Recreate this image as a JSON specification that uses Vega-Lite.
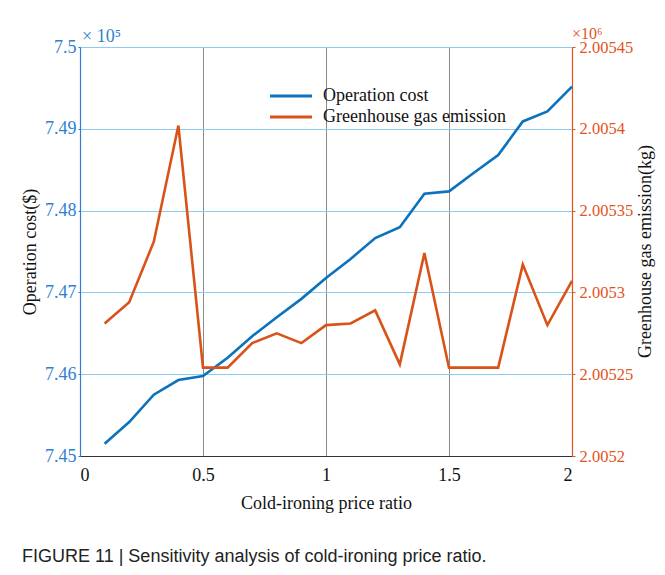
{
  "$schema": "https://vega.github.io/schema/vega-lite/v6.json",
  "width": 492,
  "height": 409,
  "autosize": {"type": "none"},
  "padding": {"left": 80, "top": 47, "right": 93, "bottom": 119},
  "background": "white",
  "config": {
    "view": {"stroke": null},
    "font": "Liberation Serif",
    "axis": {"labelFont": "Liberation Serif", "titleFont": "Liberation Serif", "labelFontSize": 18, "titleFontSize": 18, "titleFontWeight": "normal", "titleColor": "#111"},
    "legend": {"labelFont": "Liberation Serif"}
  },
  "title": {
    "text": "FIGURE 11 | Sensitivity analysis of cold-ironing price ratio.",
    "orient": "bottom",
    "anchor": "start",
    "frame": "group",
    "dx": -58,
    "offset": 36,
    "font": "Liberation Sans",
    "fontSize": 18,
    "fontWeight": "normal",
    "color": "#222222"
  },
  "data": {
    "values": [
      {"ratio": 0.1, "cost": 745150, "emission": 2005281},
      {"ratio": 0.2, "cost": 745415, "emission": 2005294},
      {"ratio": 0.3, "cost": 745749, "emission": 2005331},
      {"ratio": 0.4, "cost": 745928, "emission": 2005402},
      {"ratio": 0.5, "cost": 745977, "emission": 2005254},
      {"ratio": 0.6, "cost": 746200, "emission": 2005254},
      {"ratio": 0.7, "cost": 746465, "emission": 2005269},
      {"ratio": 0.8, "cost": 746697, "emission": 2005275},
      {"ratio": 0.9, "cost": 746921, "emission": 2005269},
      {"ratio": 1.0, "cost": 747177, "emission": 2005280},
      {"ratio": 1.1, "cost": 747409, "emission": 2005281},
      {"ratio": 1.2, "cost": 747665, "emission": 2005289},
      {"ratio": 1.3, "cost": 747796, "emission": 2005256},
      {"ratio": 1.4, "cost": 748207, "emission": 2005324},
      {"ratio": 1.5, "cost": 748235, "emission": 2005254},
      {"ratio": 1.6, "cost": 748459, "emission": 2005254},
      {"ratio": 1.7, "cost": 748679, "emission": 2005254},
      {"ratio": 1.8, "cost": 749090, "emission": 2005317},
      {"ratio": 1.9, "cost": 749212, "emission": 2005280},
      {"ratio": 2.0, "cost": 749515, "emission": 2005307}
    ]
  },
  "layer": [
    {
      "layer": [
        {
          "mark": {"type": "line", "strokeWidth": 2.6},
          "encoding": {
            "x": {
              "field": "ratio", "type": "quantitative",
              "scale": {"domain": [0, 2], "nice": false, "zero": false},
              "axis": {
                "values": [0, 0.5, 1, 1.5, 2],
                "format": "~g",
                "title": "Cold-ironing price ratio",
                "titlePadding": 10,
                "labelColor": "#111",
                "labelPadding": 10,
                "domainColor": "#333333",
                "domainWidth": 1.2,
                "ticks": false,
                "grid": true,
                "gridColor": "#8a8a8a",
                "gridWidth": 1
              }
            },
            "y": {
              "field": "cost", "type": "quantitative",
              "scale": {"domain": [745000, 750000], "nice": false, "zero": false},
              "axis": {
                "values": [745000, 746000, 747000, 748000, 749000, 750000],
                "labelExpr": "format(datum.value / 100000, '.3~f')",
                "title": "Operation cost($)",
                "titlePadding": 5,
                "labelColor": "#2f80d2",
                "labelPadding": 2,
                "domainColor": "#2f80d2",
                "domainWidth": 1.2,
                "tickColor": "#2f80d2",
                "tickSize": 2,
                "grid": true,
                "gridColor": "#8fcbee",
                "gridWidth": 1.2
              }
            },
            "color": {
              "datum": "Operation cost",
              "type": "nominal",
              "scale": {"domain": ["Operation cost", "Greenhouse gas emission"], "range": ["#0b72bd", "#d95319"]},
              "legend": {
                "title": null,
                "orient": "none",
                "legendX": 199,
                "legendY": 37,
                "symbolType": "M-2,0H2",
                "symbolSize": 440,
                "symbolStrokeWidth": 3,
                "symbolFillColor": "transparent",
                "labelFontSize": 18,
                "labelColor": "#111",
                "labelOffset": 20,
                "labelLimit": 0,
                "rowPadding": 0,
                "padding": 0
              }
            }
          }
        },
        {
          "transform": [{"filter": "datum.ratio == 0.1"}],
          "mark": {"type": "text", "text": "× 10⁵", "align": "left", "baseline": "bottom", "dx": 2, "dy": -1, "fontSize": 18, "fontWeight": "normal", "color": "#2f80d2", "font": "Liberation Serif"},
          "encoding": {
            "x": {"datum": 0, "type": "quantitative"},
            "y": {"datum": 750000, "type": "quantitative"}
          }
        }
      ]
    },
    {
      "layer": [
        {
          "mark": {"type": "line", "strokeWidth": 2.6},
          "encoding": {
            "x": {"field": "ratio", "type": "quantitative"},
            "y": {
              "field": "emission", "type": "quantitative",
              "scale": {"domain": [2005200, 2005450], "nice": false, "zero": false},
              "axis": {
                "orient": "right",
                "values": [2005200, 2005250, 2005300, 2005350, 2005400, 2005450],
                "labelExpr": "format(datum.value / 1000000, '.5~f')",
                "title": "Greenhouse gas emission(kg)",
                "titleAngle": 270,
                "titleX": 78,
                "titleY": 204,
                "titleAlign": "center",
                "titleBaseline": "alphabetic",
                "labelFontSize": 16.5,
                "labelColor": "#e4531c",
                "labelPadding": 4,
                "domainColor": "#e4531c",
                "domainWidth": 1.2,
                "tickColor": "#e4531c",
                "tickSize": 3,
                "grid": false
              }
            },
            "color": {"datum": "Greenhouse gas emission", "type": "nominal"}
          }
        },
        {
          "transform": [{"filter": "datum.ratio == 0.1"}],
          "mark": {"type": "text", "text": "×10⁶", "align": "left", "baseline": "bottom", "dx": 0, "dy": -5, "fontSize": 16, "fontWeight": "normal", "color": "#e4531c", "font": "Liberation Serif"},
          "encoding": {
            "x": {"datum": 2, "type": "quantitative"},
            "y": {"datum": 2005450, "type": "quantitative"}
          }
        }
      ]
    }
  ],
  "resolve": {"scale": {"y": "independent"}}
}
